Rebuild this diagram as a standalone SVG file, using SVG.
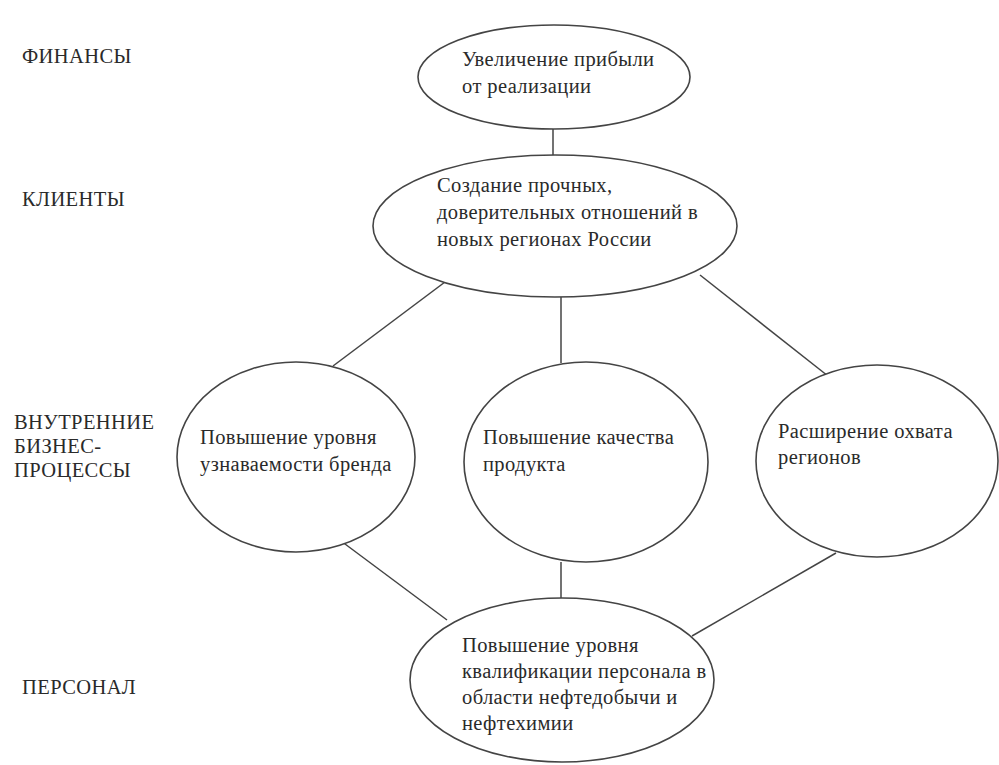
<svg xmlns="http://www.w3.org/2000/svg" width="999" height="765" viewBox="0 0 999 765">
<style>
.n{fill:#fff;stroke:#444;stroke-width:1.6}
.c line{stroke:#444;stroke-width:1.5}
.t{font-family:'Liberation Serif','DejaVu Serif','Times New Roman',serif;font-size:20.5px;fill:#2a2a2a;letter-spacing:0.4px}
</style>
<rect width="999" height="765" fill="#fff"/>
<g id="connectors" class="c">
<line x1="553" y1="128" x2="553" y2="156"/>
<line x1="445" y1="282" x2="333" y2="366"/>
<line x1="561" y1="297" x2="561" y2="363"/>
<line x1="700" y1="275" x2="828" y2="376"/>
<line x1="341" y1="541" x2="447" y2="620"/>
<line x1="561" y1="562" x2="561" y2="598"/>
<line x1="836" y1="553" x2="692" y2="636"/>
</g>
<g id="lbl-fin" class="t"><text x="22" y="63">ФИНАНСЫ</text></g>
<g id="lbl-cli" class="t"><text x="22" y="206">КЛИЕНТЫ</text></g>
<g id="lbl-proc" class="t"><text x="14" y="429">ВНУТРЕННИЕ</text><text x="14" y="453">БИЗНЕС-</text><text x="14" y="477">ПРОЦЕССЫ</text></g>
<g id="lbl-pers" class="t"><text x="22" y="694">ПЕРСОНАЛ</text></g>
<g id="n1" class="t"><ellipse class="n" cx="554" cy="77" rx="136" ry="52"/><text x="462" y="66">Увеличение прибыли</text><text x="462" y="93">от реализации</text></g>
<g id="n2" class="t"><ellipse class="n" cx="555" cy="226" rx="182" ry="71"/><text x="437" y="192">Создание прочных,</text><text x="437" y="219">доверительных отношений в</text><text x="437" y="246">новых регионах России</text></g>
<g id="n3" class="t"><ellipse class="n" cx="296" cy="457" rx="119" ry="95"/><text x="200" y="444">Повышение уровня</text><text x="200" y="471">узнаваемости бренда</text></g>
<g id="n4" class="t"><ellipse class="n" cx="586" cy="462" rx="122" ry="100"/><text x="483" y="444">Повышение качества</text><text x="483" y="471">продукта</text></g>
<g id="n5" class="t"><ellipse class="n" cx="877" cy="461" rx="121" ry="96"/><text x="778" y="438">Расширение охвата</text><text x="778" y="464">регионов</text></g>
<g id="n6" class="t"><ellipse class="n" cx="562" cy="680" rx="152" ry="82"/><text x="462" y="652">Повышение уровня</text><text x="462" y="678">квалификации персонала в</text><text x="462" y="704">области нефтедобычи и</text><text x="462" y="730">нефтехимии</text></g>
</svg>
